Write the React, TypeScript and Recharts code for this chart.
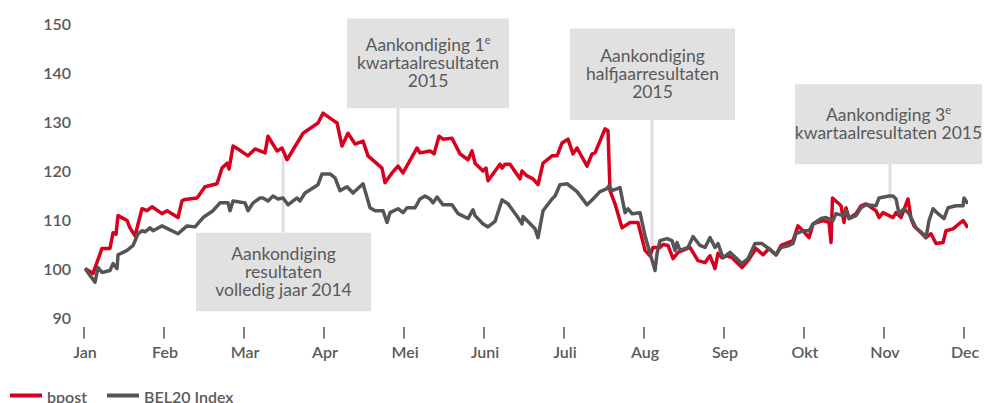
import { LineChart, Line, XAxis, YAxis, ReferenceArea, ReferenceLine } from 'recharts';

const FONT = "Lato, 'Open Sans', sans-serif";
const RED = '#d8001c';
const GREY = '#555555';
const TEXT = '#5a5a5a';
const BOX = '#e1e1e1';

const MONTHS = ['Jan', 'Feb', 'Mar', 'Apr', 'Mei', 'Juni', 'Juli', 'Aug', 'Sep', 'Okt', 'Nov', 'Dec'];
const MONTH_TICKS = MONTHS.map((_m, i) => i);
const Y_TICKS = [90, 100, 110, 120, 130, 140, 150];

// positie in maanden vanaf 1 januari (0 = Jan, 11 = Dec)
const bpostPos = [
  0.013, 0.113, 0.225, 0.325, 0.363, 0.4, 0.425, 0.538, 0.575, 0.638, 0.725, 0.788, 0.85, 0.975,
  1.038, 1.175, 1.225, 1.263, 1.413, 1.513, 1.663, 1.725, 1.788, 1.813, 1.863, 1.925, 2.05, 2.138,
  2.263, 2.3, 2.413, 2.475, 2.538, 2.738, 2.925, 2.988, 3.075, 3.163, 3.225, 3.3, 3.388, 3.488,
  3.55, 3.725, 3.763, 3.85, 3.925, 3.988, 4.163, 4.2, 4.325, 4.375, 4.438, 4.488, 4.6, 4.7, 4.8,
  4.85, 4.888, 4.988, 5.025, 5.05, 5.2, 5.225, 5.263, 5.325, 5.45, 5.475, 5.538, 5.613, 5.675,
  5.738, 5.85, 5.913, 5.975, 6.05, 6.113, 6.163, 6.288, 6.35, 6.388, 6.513, 6.55, 6.575, 6.638,
  6.725, 6.825, 6.925, 7.013, 7.075, 7.113, 7.2, 7.238, 7.3, 7.363, 7.425, 7.575, 7.675, 7.763,
  7.825, 7.888, 7.925, 7.975, 8.038, 8.1, 8.225, 8.3, 8.4, 8.488, 8.563, 8.65, 8.713, 8.863, 8.925,
  8.988, 9.063, 9.113, 9.238, 9.313, 9.338, 9.356, 9.463, 9.5, 9.525, 9.563, 9.65, 9.713, 9.775,
  9.9, 9.938, 9.988, 10.113, 10.15, 10.213, 10.3, 10.338, 10.375, 10.463, 10.525, 10.588, 10.65,
  10.738, 10.775, 10.863, 10.988, 11.05,
];
const bpostVal = [
  100.2, 99.2, 104.3, 104.3, 107.5, 107.2, 111, 110, 108.5, 106.9, 112.4, 112, 112.8, 111.4,
  112, 110.6, 114, 114.3, 114.6, 116.9, 117.5, 120.7, 121.7, 120.5, 125.2, 124.6, 123.2, 124.6,
  123.8, 127.2, 124.2, 124.8, 122.4, 127.8, 129.9, 131.9, 130.9, 129.9, 125.2, 127.8, 125.6, 126.2,
  123.2, 120.7, 117.7, 119.7, 121.1, 119.7, 124.8, 123.8, 124.2, 123.6, 127.2, 126.6, 126.8, 123.6, 122.4,
  124.2, 121.7, 120.1, 120.7, 118.1, 121.5, 120.7, 121.5, 121.5, 118.5, 120.1, 119.1, 118.5, 117.3,
  121.7, 123.2, 123.2, 125.8, 126.6, 123.6, 124.8, 121.1, 123.6, 123.8, 128.7, 128.3, 116.1, 113.4,
  108.5, 109.6, 109.6, 103.9, 102.8, 104.5, 104.5, 105.1, 104.9, 102.2, 103.5, 104.5, 101.8, 101.4,
  102.8, 100.2, 103.3, 102.4, 102.8, 102.4, 100.4, 101.8, 104.3, 103, 104.3, 103, 104.9, 105.9, 108.9,
  107.9, 106.5, 109.3, 110, 109.6, 105.5, 114.6, 113, 109.6, 112.6, 110.4, 111.4, 113, 113.4,
  112, 110.6, 111.6, 110.6, 111.6, 110.6, 114.4, 110.4, 108.9, 107.5, 106.5, 107.3, 105.3,
  105.5, 107.9, 108.3, 110, 108.5,
];

const bel20Pos = [
  0.013, 0.075, 0.138, 0.175, 0.225, 0.325, 0.363, 0.413, 0.425, 0.538, 0.613, 0.675, 0.725, 0.763,
  0.825, 0.863, 0.975, 1.05, 1.175, 1.288, 1.388, 1.488, 1.613, 1.7, 1.8, 1.825, 1.863, 2.013, 2.05,
  2.113, 2.2, 2.238, 2.3, 2.363, 2.425, 2.488, 2.55, 2.663, 2.7, 2.763, 2.925, 2.975, 3.075, 3.138,
  3.2, 3.288, 3.363, 3.488, 3.575, 3.638, 3.738, 3.788, 3.825, 3.925, 3.988, 4.038, 4.138, 4.2,
  4.263, 4.325, 4.363, 4.413, 4.488, 4.6, 4.675, 4.8, 4.863, 4.888, 4.988, 5.05, 5.138, 5.225, 5.3,
  5.425, 5.475, 5.488, 5.638, 5.675, 5.738, 5.85, 5.888, 5.95, 6.038, 6.163, 6.288, 6.363, 6.45,
  6.538, 6.563, 6.6, 6.7, 6.763, 6.8, 6.85, 6.95, 7.013, 7.075, 7.138, 7.163, 7.2, 7.288, 7.35,
  7.388, 7.413, 7.45, 7.55, 7.613, 7.7, 7.763, 7.825, 7.888, 7.925, 7.988, 8.075, 8.225, 8.3, 8.388,
  8.475, 8.538, 8.65, 8.713, 8.813, 8.863, 8.9, 8.988, 9.063, 9.113, 9.213, 9.275, 9.363, 9.4,
  9.488, 9.525, 9.563, 9.65, 9.713, 9.775, 9.9, 9.938, 10.063, 10.113, 10.15, 10.188, 10.25,
  10.313, 10.4, 10.488, 10.525, 10.563, 10.613, 10.675, 10.75, 10.8, 10.9, 10.988, 11.0, 11.05,
];
const bel20Val = [
  100.2, 98.8, 97.4, 100.4, 99.4, 99.8, 101.2, 100.2, 103, 103.9, 104.9, 107.3, 107.9, 107.7,
  108.5, 107.9, 108.9, 108.3, 107.3, 108.9, 108.7, 110.6, 112, 113.6, 113.6, 112, 114, 113.6, 112,
  113.6, 114.6, 114.6, 114, 115, 114.4, 114.6, 113.2, 114.6, 114, 115.6, 117.3, 119.5, 119.5, 118.7,
  116.1, 116.9, 115.6, 117.5, 112.6, 112, 112, 109.6, 111.6, 112.4, 111.6, 112.6, 112.6, 114.4,
  115, 114.4, 113.6, 114.8, 113.2, 113.2, 111.4, 110.4, 112.2, 111, 109.3, 108.7, 109.8, 114.2, 113.4,
  110.6, 109.3, 110.8, 108.3, 106.5, 112, 114.4, 115, 117.3, 117.5, 115.9, 113.2, 114.4, 115.9,
  116.5, 117.1, 116.1, 116.7, 111.6, 112.4, 111.4, 111.6, 106.9, 103.3, 99.8, 103.3, 105.9, 106.3, 105.9,
  103.9, 105.5, 103.9, 104.5, 106.7, 104.9, 104.5, 106.5, 104.5, 105.3, 102.4, 103.5, 101.2, 102.2, 105.3,
  105.3, 104.5, 103, 104.5, 104.9, 105.3, 107.3, 107.9, 107.9, 109.3, 110.4, 110.6, 110, 111.4,
  111, 112, 110.4, 111, 112.6, 113.2, 113, 114.6, 115, 115, 114.4, 111.4, 112.4,
  111.4, 108.5, 107.3, 106.5, 110, 112.4, 111.4, 110.4, 112.6, 113, 113, 114.6, 113.4,
];

const bpostData = bpostPos.map((m, i) => ({ m, v: bpostVal[i] }));
const bel20Data = bel20Pos.map((m, i) => ({ m, v: bel20Val[i] }));

const SERIES = [
  { name: 'bpost', color: RED, data: bpostData },
  { name: 'BEL20 Index', color: GREY, data: bel20Data },
];

// aankondigingen: kader (maanden / indexwaarde) en verbindingslijn
const NOTES = [
  { lines: [['Aankondiging'], ['resultaten'], ['volledig jaar 2014']], x1: 1.4, x2: 3.588, y1: 91.5, y2: 107.5, lx: 2.488, ly1: 123.2, ly2: 107.5 },
  { lines: [['Aankondiging 1', 'e'], ['kwartaalresultaten'], ['2015']], x1: 3.288, x2: 5.313, y1: 132.9, y2: 151.2, lx: 3.925, ly1: 120.7, ly2: 132.9 },
  { lines: [['Aankondiging'], ['halfjaarresultaten'], ['2015']], x1: 6.075, x2: 8.138, y1: 130.5, y2: 149.2, lx: 7.1, ly1: 103.9, ly2: 130.5 },
  { lines: [['Aankondiging 3', 'e'], ['kwartaalresultaten 2015']], x1: 8.888, x2: 11.225, y1: 121.5, y2: 137.8, lx: 10.075, ly1: 114, ly2: 121.5 },
];

function NoteText({ viewBox, lines }: any) {
  const { x, y, width, height } = viewBox;
  const cx = x + width / 2;
  const cy = y + height / 2;
  const lh = 18;
  return (
    <g>
      {lines.map((l: string[], i: number) => (
        <text
          key={i}
          x={cx}
          y={cy + (i - (lines.length - 1) / 2) * lh + 6}
          textAnchor="middle"
          fill={TEXT}
          fontFamily={FONT}
          fontSize={17.5}
        >
          {l[0]}
          {l[1] ? <tspan fontSize={11} dy={-7}>{l[1]}</tspan> : null}
        </text>
      ))}
    </g>
  );
}

function MonthTick({ x, y, payload }: any) {
  return (
    <g>
      <line x1={x} x2={x} y1={y + 8.5} y2={y + 20} stroke={GREY} strokeWidth={1.5} />
      <text x={x + 1} y={y + 39} textAnchor="middle" fill={TEXT} fontFamily={FONT} fontSize={16} fontWeight={600}>
        {MONTHS[payload.value]}
      </text>
    </g>
  );
}

export default function App() {
  return (
    <div style={{ position: 'relative', width: 986, height: 403, overflow: 'hidden' }}>
      <style>{'body{margin:0}'}</style>
      <LineChart width={986} height={403} margin={{ top: 24.5, right: 18, bottom: 0, left: 0 }}>
        <XAxis
          type="number"
          dataKey="m"
          domain={[0, 11.05]}
          ticks={MONTH_TICKS}
          interval={0}
          allowDataOverflow
          axisLine={false}
          tickLine={false}
          tickSize={0}
          tickMargin={0}
          height={84.5}
          tick={<MonthTick />}
        />
        <YAxis
          domain={[90, 150]}
          ticks={Y_TICKS}
          interval={0}
          width={84}
          axisLine={false}
          tickLine={false}
          tickSize={0}
          tickMargin={13}
          tick={{ fill: TEXT, fontSize: 16, fontWeight: 600, fontFamily: FONT }}
        />
        {NOTES.map((n, i) => (
          <ReferenceLine
            key={`l${i}`}
            segment={[{ x: n.lx, y: n.ly1 }, { x: n.lx, y: n.ly2 }]}
            stroke="#dfdfdf"
            strokeWidth={3}
            ifOverflow="visible"
          />
        ))}
        {NOTES.map((n, i) => (
          <ReferenceArea
            key={`a${i}`}
            x1={n.x1}
            x2={n.x2}
            y1={n.y1}
            y2={n.y2}
            fill={BOX}
            fillOpacity={1}
            stroke="none"
            ifOverflow="visible"
            label={(p: any) => <NoteText viewBox={p.viewBox} lines={n.lines} />}
          />
        ))}
        {SERIES.map((s) => (
          <Line
            key={s.name}
            data={s.data}
            dataKey="v"
            name={s.name}
            type="linear"
            stroke={s.color}
            strokeWidth={3.5}
            strokeLinejoin="round"
            dot={false}
            isAnimationActive={false}
          />
        ))}
      </LineChart>
      <svg width={986} height={30} style={{ position: 'absolute', left: 0, top: 380 }}>
        {SERIES.map((s, i) => {
          const x0 = i === 0 ? 10 : 107;
          return (
            <g key={s.name}>
              <line x1={x0} x2={x0 + 32} y1={15.5} y2={15.5} stroke={s.color} strokeWidth={4} />
              <text x={x0 + 37} y={22.5} fill={TEXT} fontFamily={FONT} fontSize={16} fontWeight={600}>
                {s.name}
              </text>
            </g>
          );
        })}
      </svg>
    </div>
  );
}
